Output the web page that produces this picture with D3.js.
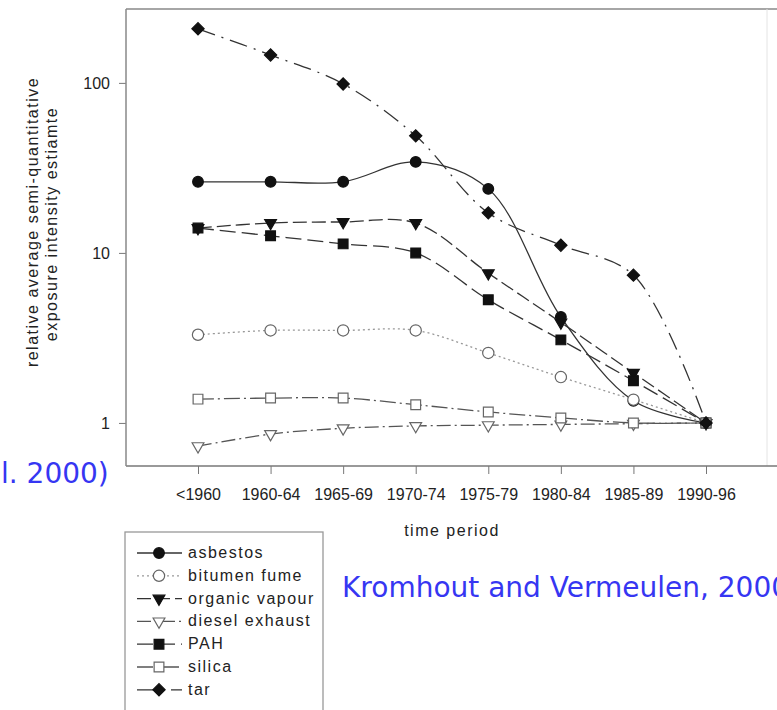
<!DOCTYPE html>
<html>
<head>
<meta charset="utf-8">
<script src="https://cdn.jsdelivr.net/npm/d3@7"></script>
<style>
  body { margin: 0; background: #fff; }
  svg { display: block; }
  .axisText { font-family: 'Liberation Sans', Arial, sans-serif; font-size: 16px; fill: #222; }
  .labelText { font-family: 'Liberation Sans', Arial, sans-serif; font-size: 16px; fill: #222; letter-spacing: 1.5px; }
  .blueText { font-family: 'DejaVu Sans', Verdana, sans-serif; font-size: 28px; fill: #3636f2; }
</style>
</head>
<body>
<svg id="chart" width="777" height="710"></svg>
<script>
const periods = ['<1960', '1960-64', '1965-69', '1970-74', '1975-79', '1980-84', '1985-89', '1990-96'];
const yTicks = [1, 10, 100];

const asbestos = [26.2, 26.2, 26.2, 34.3, 23.8, 4.2, 1.35, 1];
const bitumenFume = [3.3, 3.5, 3.5, 3.5, 2.58, 1.86, 1.37, 1];
const organicVapour = [14, 15, 15.2, 15, 7.6, 3.9, 1.97, 1];
const dieselExhaust = [0.73, 0.86, 0.93, 0.96, 0.97, 0.98, 0.99, 1];
const pah = [14, 12.6, 11.3, 10, 5.3, 3.08, 1.77, 1];
const silica = [1.38, 1.4, 1.4, 1.28, 1.16, 1.07, 1.0, 1];
const tar = [208, 146, 98.6, 48.8, 17.2, 11.1, 7.4, 1];

const seriesNames = ['asbestos', 'bitumen fume', 'organic vapour', 'diesel exhaust', 'PAH', 'silica', 'tar'];
const seriesValues = [asbestos, bitumenFume, organicVapour, dieselExhaust, pah, silica, tar];

// look of each series: symbol, filled?, dash pattern, line colour, rotation
const looks = [
  { sym: d3.symbolCircle, size: 90, fill: true, dash: null, color: '#333', rot: 0 },
  { sym: d3.symbolCircle, size: 100, fill: false, dash: '2,3', color: '#999', rot: 0 },
  { sym: d3.symbolTriangle, size: 60, fill: true, dash: '14,5', color: '#333', rot: 180 },
  { sym: d3.symbolTriangle, size: 60, fill: false, dash: '14,4,2,4', color: '#555', rot: 180 },
  { sym: d3.symbolSquare, size: 95, fill: true, dash: '16,6', color: '#333', rot: 0 },
  { sym: d3.symbolSquare, size: 95, fill: false, dash: '16,4,2,4', color: '#555', rot: 0 },
  { sym: d3.symbolSquare, size: 75, fill: true, dash: '18,7,2,7', color: '#333', rot: 45 },
];

const svg = d3.select('#chart');

const plotLeft = 126;
const plotTop = 9;
const plotBottom = 466;
const plotRight = 777;

const xscale = d3.scalePoint()
  .domain(periods)
  .range([198, 706]);

const yscale = d3.scaleLog()
  .domain([0.558, 272])
  .range([plotBottom, plotTop]);

// frame
svg.append('line')
  .attr('x1', plotLeft).attr('x2', plotRight)
  .attr('y1', plotTop).attr('y2', plotTop)
  .attr('stroke', '#888').attr('stroke-width', 1.5);
svg.append('line')
  .attr('x1', 767).attr('x2', 767)
  .attr('y1', plotTop).attr('y2', plotBottom)
  .attr('stroke', '#e4e4e4').attr('stroke-width', 1);

const bottomAxis = d3.axisBottom(xscale).tickSize(8).tickPadding(15);
const gx = svg.append('g')
  .attr('transform', `translate(0, ${plotBottom})`)
  .call(bottomAxis);
gx.select('.domain').remove();
gx.append('line')
  .attr('x1', plotLeft).attr('x2', plotRight)
  .attr('stroke', '#777').attr('stroke-width', 1.5);
gx.selectAll('.tick line').attr('stroke', '#777');
gx.selectAll('.tick text').attr('class', 'axisText');
gx.attr('font-size', null).attr('font-family', null);

const leftAxis = d3.axisLeft(yscale).tickValues(yTicks).tickFormat(d3.format('d')).tickSize(7).tickPadding(9);
const gy = svg.append('g')
  .attr('transform', `translate(${plotLeft}, 0)`)
  .call(leftAxis);
gy.select('.domain').remove();
gy.append('line')
  .attr('y1', plotTop).attr('y2', plotBottom)
  .attr('stroke', '#888').attr('stroke-width', 1.5);
gy.selectAll('.tick line').attr('stroke', '#777');
gy.selectAll('.tick text').attr('class', 'axisText');
gy.attr('font-size', null).attr('font-family', null);

// axis titles
svg.append('text')
  .attr('class', 'labelText')
  .attr('text-anchor', 'middle')
  .attr('transform', 'translate(38, 222) rotate(-90)')
  .text('relative average semi-quantitative');
svg.append('text')
  .attr('class', 'labelText')
  .attr('text-anchor', 'middle')
  .attr('transform', 'translate(57, 224) rotate(-90)')
  .text('exposure intensity estiamte');
svg.append('text')
  .attr('class', 'labelText')
  .attr('text-anchor', 'middle')
  .attr('x', 452).attr('y', 536)
  .text('time period');

// lines and markers
const line = d3.line()
  .x((d, i) => xscale(periods[i]))
  .y((d) => yscale(d))
  .curve(d3.curveCatmullRom.alpha(0.5));

const symbolPath = (look) => d3.symbol().type(look.sym).size(look.size)();

seriesValues.forEach((vals, s) => {
  const look = looks[s];
  svg.append('path')
    .attr('d', line(vals))
    .attr('fill', 'none')
    .attr('stroke', look.color)
    .attr('stroke-width', 1.3)
    .attr('stroke-dasharray', look.dash);

  svg.append('g')
    .selectAll('path')
    .data(vals)
    .enter()
    .append('path')
    .attr('d', symbolPath(look))
    .attr('transform', (d, i) => `translate(${xscale(periods[i])}, ${yscale(d)}) rotate(${look.rot})`)
    .attr('fill', look.fill ? '#111' : '#fff')
    .attr('stroke', look.fill ? '#111' : '#666')
    .attr('stroke-width', 1.2);
});

// legend
const legend = svg.append('g');
legend.append('rect')
  .attr('x', 125).attr('y', 532)
  .attr('width', 198).attr('height', 200)
  .attr('fill', 'none')
  .attr('stroke', '#999')
  .attr('stroke-width', 1.3);

const items = legend.selectAll('g.item')
  .data(seriesNames)
  .enter()
  .append('g')
  .attr('transform', (d, i) => `translate(0, ${553 + i * 22.8})`);

items.append('line')
  .attr('x1', 137).attr('x2', 182)
  .attr('stroke', (d, i) => looks[i].color)
  .attr('stroke-width', 1.3)
  .attr('stroke-dasharray', (d, i) => looks[i].dash);

items.append('path')
  .attr('d', (d, i) => symbolPath(looks[i]))
  .attr('transform', (d, i) => `translate(159, 0) rotate(${looks[i].rot})`)
  .attr('fill', (d, i) => looks[i].fill ? '#111' : '#fff')
  .attr('stroke', (d, i) => looks[i].fill ? '#111' : '#666')
  .attr('stroke-width', 1.2);

items.append('text')
  .attr('class', 'labelText')
  .attr('x', 188).attr('y', 5)
  .text((d) => d);

// slide text around the chart
svg.append('text')
  .attr('class', 'blueText')
  .attr('x', 1).attr('y', 483)
  .text('l. 2000)');
svg.append('text')
  .attr('class', 'blueText')
  .attr('x', 342).attr('y', 597)
  .text('Kromhout and Vermeulen, 2000');
</script>
</body>
</html>
